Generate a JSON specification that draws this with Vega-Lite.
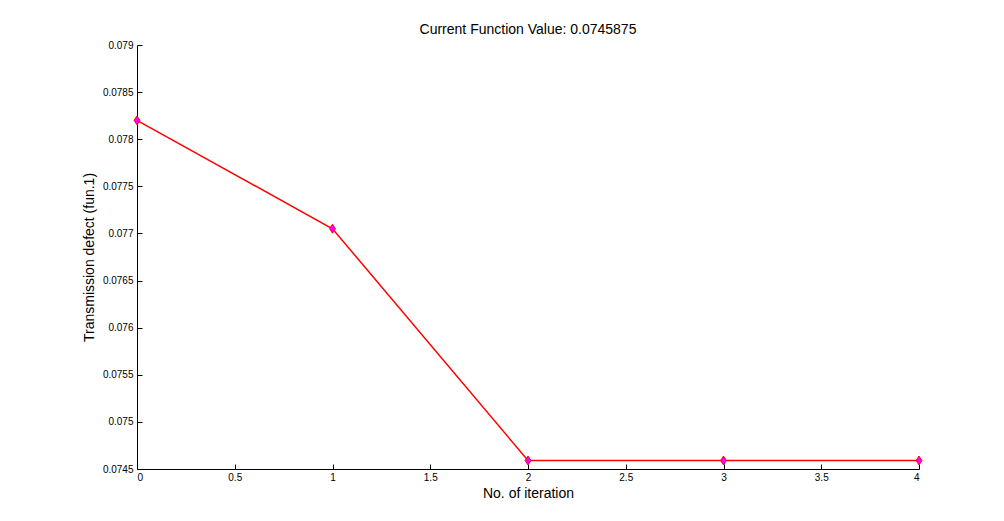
{
  "$schema": "https://vega.github.io/schema/vega-lite/v6.json",
  "width": 782,
  "height": 424,
  "autosize": {"type": "none"},
  "padding": {"left": 137, "top": 45, "right": 85, "bottom": 52},
  "background": "white",
  "title": {"text": "Current Function Value: 0.0745875", "fontSize": 14, "font": "Liberation Sans", "fontWeight": "normal", "color": "black", "anchor": "middle", "offset": 3},
  "config": {"view": {"stroke": null}, "axis": {"grid": false, "domainColor": "black", "tickColor": "black", "labelColor": "black", "titleColor": "black", "labelFont": "Liberation Sans", "titleFont": "Liberation Sans", "labelFontSize": 10, "titleFontSize": 14, "titleFontWeight": "normal", "tickSize": -5, "domainWidth": 1, "tickWidth": 1}},
  "data": {"values": [
    {"iter": 0, "value": 0.0782},
    {"iter": 1, "value": 0.07705},
    {"iter": 2, "value": 0.07459},
    {"iter": 3, "value": 0.07459},
    {"iter": 4, "value": 0.07459}
  ]},
  "encoding": {
    "x": {"field": "iter", "type": "quantitative", "scale": {"domain": [0, 4], "nice": false, "zero": false},
      "axis": {"title": "No. of iteration", "values": [0, 0.5, 1, 1.5, 2, 2.5, 3, 3.5, 4], "format": "~f", "labelPadding": 8, "titlePadding": 4}},
    "y": {"field": "value", "type": "quantitative", "scale": {"domain": [0.0745, 0.079], "nice": false, "zero": false},
      "axis": {"title": "Transmission defect (fun.1)", "values": [0.0745, 0.075, 0.0755, 0.076, 0.0765, 0.077, 0.0775, 0.078, 0.0785, 0.079], "format": "~f", "labelPadding": 9, "titlePadding": 6}}
  },
  "layer": [
    {"mark": {"type": "line", "color": "red", "strokeWidth": 1.5}},
    {"mark": {"type": "point", "shape": "M0,-1L0.65,0L0,1L-0.65,0Z", "filled": true, "fill": "#ff00ff", "stroke": "red", "strokeWidth": 1, "size": 80, "opacity": 1}}
  ]
}
